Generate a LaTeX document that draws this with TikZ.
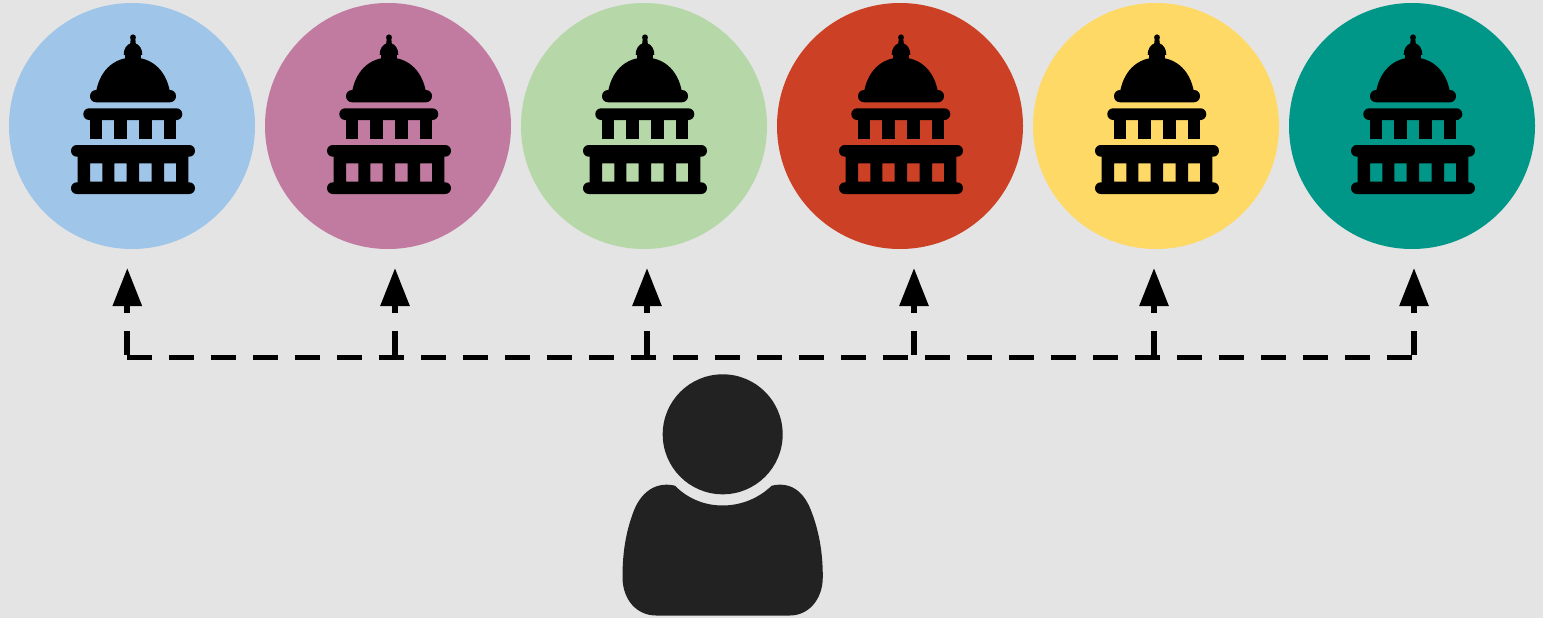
\documentclass[tikz,border=0pt]{standalone}
\usetikzlibrary{arrows.meta}
\definecolor{bgc}{HTML}{E4E4E4}
\definecolor{personc}{HTML}{222222}
\tikzset{
  disc/.style={circle,minimum size=246pt,inner sep=0pt,fill=#1},
  link/.style={line width=5.8pt,dash pattern=on 24.3pt off 17.7pt,draw=black},
  up/.style={link,-{Triangle[length=38pt,width=28pt]}},
  capitol/.pic={
    \fill[rounded corners=5.8pt] (-62,56.3) rectangle (62,68);
    \fill[rounded corners=5.8pt] (-62,19) rectangle (62,30.7);
    \fill[even odd rule] (-55.3,30) rectangle (55.3,57)
      (-43,37.3) rectangle (-30.7,55.7)
      (-18.7,37.3) rectangle (-6.3,55.7)
      (6,37.3) rectangle (18.7,55.7)
      (31,37.3) rectangle (43,55.7);
    \fill[rounded corners=5.8pt] (-49.7,-17.7) rectangle (49.3,-6);
    \foreach \cx in {-43.3,-18.6,6,30.7}
      \fill (\cx,-7) rectangle ++(12.6,20);
    \fill[rounded corners=6pt] (-43,-36) rectangle (43,-23.7);
    \fill (-37.5,-30) .. controls (-35,-54) and (-20,-68.5) .. (0,-68.5)
      .. controls (20,-68.5) and (35,-54) .. (37.5,-30) -- cycle;
    \fill (-8,-60) rectangle (8,-72);
    \fill (-9.3,-71) .. controls (-9.6,-77) and (-6,-81.5) .. (-2.8,-82.5)
      -- (-2.2,-88) -- (2.2,-88) -- (2.8,-82.5)
      .. controls (6,-81.5) and (9.6,-77) .. (9.3,-71) -- cycle;
    \fill (0,-88.7) circle (2.9);
  }
}
\begin{document}
\begin{tikzpicture}[x=1pt,y=-1pt]
\fill[bgc] (0,0) rectangle (1543,618);
\useasboundingbox (0,0) rectangle (1543,618);
% discs
\foreach \n/\xc/\col in {1/132/9FC5E8,2/388/C27BA0,3/644/B6D7A8,4/900/CC4125,5/1156/FFD966,6/1412/009688}{
  \definecolor{disccol}{HTML}{\col}
  \node[disc=disccol] (c\n) at (\xc,126) {};
  \pic at ([xshift=1pt]c\n.center) {capitol};
}
% connectors
\foreach \n/\xr in {1/127.3,2/395,3/647,4/914,5/1154,6/1414}{
  \coordinate (j\n) at (\xr,357.5);
  \coordinate (t\n) at (\xr,268);
  \draw[up] ([yshift=2.5pt]j\n) -- (t\n);
}
\draw[link] (j1) -- (j6);
% person
\node[circle,fill=personc,minimum size=120pt,inner sep=0pt] (head) at (722.7,434.3) {};
\fill[personc] (675,485.7)
  .. controls (688,499) and (705,505.5) .. (722.7,505.5)
  .. controls (740,505.5) and (758,499) .. (771.7,485.7)
  .. controls (792,481) and (805,493) .. (812,513)
  .. controls (819,532) and (822.8,552) .. (822.8,577)
  .. controls (822.8,600) and (808,615.5) .. (790,615.5)
  -- (656,615.5)
  .. controls (637,615.5) and (622.5,600) .. (622.5,577)
  .. controls (622.5,552) and (626,532) .. (633,513)
  .. controls (640,493) and (655,481) .. (675,485.7) -- cycle;
\end{tikzpicture}
\end{document}
